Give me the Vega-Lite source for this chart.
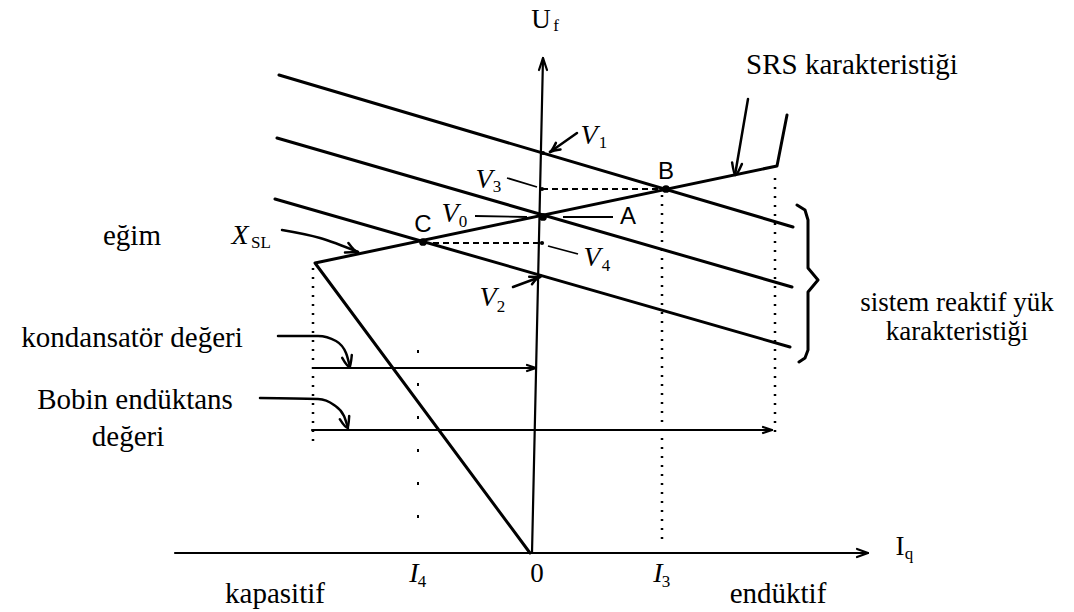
{
  "$schema": "https://vega.github.io/schema/vega-lite/v6.json",
  "width": 1074,
  "height": 612,
  "padding": 0,
  "autosize": {"type": "fit", "contains": "padding"},
  "background": "white",
  "config": {"view": {"stroke": null}},
  "datasets": {
    "thick": [
      {"g": "L1", "o": 1, "x": -253, "y": 478}, {"g": "L1", "o": 2, "x": 261, "y": 326},
      {"g": "L2", "o": 1, "x": -255, "y": 415}, {"g": "L2", "o": 2, "x": 260, "y": 266},
      {"g": "L3", "o": 1, "x": -257, "y": 354}, {"g": "L3", "o": 2, "x": 258, "y": 206},
      {"g": "SRS", "o": 1, "x": 255, "y": 438}, {"g": "SRS", "o": 2, "x": 245, "y": 387},
      {"g": "SRS", "o": 3, "x": -217, "y": 290}, {"g": "SRS", "o": 4, "x": -2, "y": 0},
      {"g": "brace", "o": 1, "x": 265, "y": 348}, {"g": "brace", "o": 2, "x": 273, "y": 343},
      {"g": "brace", "o": 3, "x": 276, "y": 333}, {"g": "brace", "o": 4, "x": 276, "y": 285},
      {"g": "brace", "o": 5, "x": 286, "y": 273}, {"g": "brace", "o": 6, "x": 276, "y": 261},
      {"g": "brace", "o": 7, "x": 276, "y": 203}, {"g": "brace", "o": 8, "x": 273, "y": 195},
      {"g": "brace", "o": 9, "x": 267, "y": 191}
    ],
    "thin": [
      {"g": "va", "o": 1, "x": 0, "y": 0}, {"g": "va", "o": 2, "x": 11, "y": 495},
      {"g": "vh", "o": 1, "x": 7, "y": 483}, {"g": "vh", "o": 2, "x": 11, "y": 495}, {"g": "vh", "o": 3, "x": 15, "y": 483},
      {"g": "ha", "o": 1, "x": -357, "y": 0}, {"g": "ha", "o": 2, "x": 336, "y": 0},
      {"g": "hh", "o": 1, "x": 325, "y": 4}, {"g": "hh", "o": 2, "x": 336, "y": 0}, {"g": "hh", "o": 3, "x": 325, "y": -4},
      {"g": "kl", "o": 1, "x": -219, "y": 185}, {"g": "kl", "o": 2, "x": 4, "y": 185},
      {"g": "kh", "o": 1, "x": -5, "y": 188}, {"g": "kh", "o": 2, "x": 4, "y": 185}, {"g": "kh", "o": 3, "x": -5, "y": 182},
      {"g": "bl", "o": 1, "x": -220, "y": 123}, {"g": "bl", "o": 2, "x": 240, "y": 123},
      {"g": "bh", "o": 1, "x": 231, "y": 126}, {"g": "bh", "o": 2, "x": 240, "y": 123}, {"g": "bh", "o": 3, "x": 231, "y": 120}
    ],
    "arrows": [
      {"g": "v1a", "o": 1, "x": 45, "y": 420}, {"g": "v1a", "o": 2, "x": 18, "y": 401},
      {"g": "v1h", "o": 1, "x": 28.5, "y": 403.5}, {"g": "v1h", "o": 2, "x": 18, "y": 401}, {"g": "v1h", "o": 3, "x": 23.9, "y": 410.1},
      {"g": "v2a", "o": 1, "x": -19, "y": 266}, {"g": "v2a", "o": 2, "x": 8, "y": 276},
      {"g": "v2h", "o": 1, "x": 0, "y": 268.8}, {"g": "v2h", "o": 2, "x": 8, "y": 276}, {"g": "v2h", "o": 3, "x": -2.8, "y": 276.2},
      {"g": "sa", "o": 1, "x": 216, "y": 454}, {"g": "sa", "o": 2, "x": 203, "y": 378},
      {"g": "sh", "o": 1, "x": 209.9, "y": 389}, {"g": "sh", "o": 2, "x": 203, "y": 378}, {"g": "sh", "o": 3, "x": 200.1, "y": 390.6},
      {"g": "xa", "o": 1, "x": -250, "y": 323}, {"g": "xa", "o": 2, "x": -212, "y": 315}, {"g": "xa", "o": 3, "x": -174, "y": 301},
      {"g": "xh", "o": 1, "x": -187, "y": 300.5}, {"g": "xh", "o": 2, "x": -174, "y": 301}, {"g": "xh", "o": 3, "x": -183.6, "y": 309.9},
      {"g": "ka", "o": 1, "x": -254, "y": 217}, {"g": "ka", "o": 2, "x": -214, "y": 217}, {"g": "ka", "o": 3, "x": -196, "y": 212},
      {"g": "ka", "o": 4, "x": -186, "y": 200}, {"g": "ka", "o": 5, "x": -182, "y": 186},
      {"g": "kh", "o": 1, "x": -180.2, "y": 198}, {"g": "kh", "o": 2, "x": -182, "y": 186}, {"g": "kh", "o": 3, "x": -189.8, "y": 195.2},
      {"g": "ba", "o": 1, "x": -272, "y": 155}, {"g": "ba", "o": 2, "x": -214, "y": 154}, {"g": "ba", "o": 3, "x": -198, "y": 148},
      {"g": "ba", "o": 4, "x": -188, "y": 137}, {"g": "ba", "o": 5, "x": -184, "y": 125},
      {"g": "bh", "o": 1, "x": -182.8, "y": 137}, {"g": "bh", "o": 2, "x": -184, "y": 125}, {"g": "bh", "o": 3, "x": -192.2, "y": 133.8}
    ],
    "leaders": [
      {"g": "v3", "o": 1, "x": -25, "y": 375}, {"g": "v3", "o": 2, "x": 5, "y": 366},
      {"g": "v0", "o": 1, "x": -57, "y": 337}, {"g": "v0", "o": 2, "x": -5, "y": 336},
      {"g": "a", "o": 1, "x": 31, "y": 336}, {"g": "a", "o": 2, "x": 81, "y": 336},
      {"g": "v4", "o": 1, "x": 16, "y": 307}, {"g": "v4", "o": 2, "x": 46, "y": 299}
    ],
    "dashed": [
      {"g": "d3", "o": 1, "x": 10, "y": 364}, {"g": "d3", "o": 2, "x": 134, "y": 364},
      {"g": "d4", "o": 1, "x": -109, "y": 310}, {"g": "d4", "o": 2, "x": 10, "y": 310}
    ],
    "dotted": [
      {"g": "left", "o": 1, "x": -219, "y": 285}, {"g": "left", "o": 2, "x": -219, "y": 108},
      {"g": "i3", "o": 1, "x": 130, "y": 358}, {"g": "i3", "o": 2, "x": 130, "y": 8},
      {"g": "right", "o": 1, "x": 243, "y": 375}, {"g": "right", "o": 2, "x": 243, "y": 121}
    ],
    "sparse": [
      {"g": "i4", "o": 1, "x": -114, "y": 203}, {"g": "i4", "o": 2, "x": -114, "y": 18}
    ],
    "bigdots": [
      {"p": "B", "x": 134, "y": 364}, {"p": "A", "x": 11, "y": 336}, {"p": "C", "x": -109, "y": 311}
    ],
    "smalldots": [
      {"p": "V1", "x": 11, "y": 400}, {"p": "V3", "x": 10, "y": 364}, {"p": "V4", "x": 10, "y": 310}, {"p": "V2", "x": 8, "y": 277}
    ],
    "serif": [
      {"t": "SRS  karakteristiği", "x": 320, "y": 488},
      {"t": "eğim", "x": -400, "y": 317},
      {"t": "kondansatör değeri", "x": -400, "y": 215},
      {"t": "Bobin endüktans", "x": -397, "y": 153},
      {"t": "değeri", "x": -404, "y": 116},
      {"t": "kapasitif", "x": -257, "y": -41},
      {"t": "endüktif", "x": 246, "y": -41}
    ],
    "serifsmall": [
      {"t": "sistem reaktif yük", "x": 425, "y": 250},
      {"t": "karakteristiği", "x": 425, "y": 221}
    ],
    "upright": [
      {"t": "U", "x": 9, "y": 533},
      {"t": "I", "x": 368, "y": 6},
      {"t": "0", "x": 5, "y": -21}
    ],
    "sans": [
      {"t": "A", "x": 96, "y": 336}, {"t": "B", "x": 134, "y": 381}, {"t": "C", "x": -109, "y": 328}
    ],
    "italic": [
      {"t": "V", "x": 57, "y": 417}, {"t": "V", "x": -48, "y": 373}, {"t": "V", "x": -82, "y": 339},
      {"t": "V", "x": 60, "y": 295}, {"t": "V", "x": -44, "y": 255}, {"t": "X", "x": -292, "y": 317},
      {"t": "I", "x": -118, "y": -21}, {"t": "I", "x": 126, "y": -21}
    ],
    "sub": [
      {"t": "1", "x": 71, "y": 410}, {"t": "3", "x": -35, "y": 366}, {"t": "0", "x": -69, "y": 331},
      {"t": "4", "x": 74, "y": 287}, {"t": "2", "x": -31, "y": 246}, {"t": "SL", "x": -271, "y": 310},
      {"t": "4", "x": -110, "y": -29}, {"t": "3", "x": 134, "y": -29},
      {"t": "f", "x": 24, "y": 527}, {"t": "q", "x": 377, "y": -1}
    ]
  },
  "encoding": {
    "x": {"field": "x", "type": "quantitative", "scale": {"domain": [-532, 542], "nice": false, "zero": false}, "axis": null},
    "y": {"field": "y", "type": "quantitative", "scale": {"domain": [-59, 553], "nice": false, "zero": false}, "axis": null}
  },
  "layer": [
    {"data": {"name": "thick"}, "mark": {"type": "line", "color": "black", "strokeWidth": 3, "strokeCap": "round", "strokeJoin": "round"},
     "encoding": {"detail": {"field": "g"}, "order": {"field": "o", "type": "quantitative"}}},
    {"data": {"name": "thin"}, "mark": {"type": "line", "color": "black", "strokeWidth": 2.2, "strokeCap": "round", "strokeJoin": "round"},
     "encoding": {"detail": {"field": "g"}, "order": {"field": "o", "type": "quantitative"}}},
    {"data": {"name": "arrows"}, "mark": {"type": "line", "color": "black", "strokeWidth": 2.5, "strokeCap": "round", "strokeJoin": "round", "interpolate": "monotone"},
     "encoding": {"detail": {"field": "g"}, "order": {"field": "o", "type": "quantitative"}}},
    {"data": {"name": "leaders"}, "mark": {"type": "line", "color": "black", "strokeWidth": 1.8},
     "encoding": {"detail": {"field": "g"}, "order": {"field": "o", "type": "quantitative"}}},
    {"data": {"name": "dashed"}, "mark": {"type": "line", "color": "black", "strokeWidth": 2, "strokeDash": [6, 4]},
     "encoding": {"detail": {"field": "g"}, "order": {"field": "o", "type": "quantitative"}}},
    {"data": {"name": "dotted"}, "mark": {"type": "line", "color": "black", "strokeWidth": 2.5, "strokeDash": [2, 7]},
     "encoding": {"detail": {"field": "g"}, "order": {"field": "o", "type": "quantitative"}}},
    {"data": {"name": "sparse"}, "mark": {"type": "line", "color": "black", "strokeWidth": 2, "strokeDash": [3, 30]},
     "encoding": {"detail": {"field": "g"}, "order": {"field": "o", "type": "quantitative"}}},
    {"data": {"name": "bigdots"}, "mark": {"type": "point", "filled": true, "color": "black", "size": 60, "opacity": 1}},
    {"data": {"name": "smalldots"}, "mark": {"type": "point", "filled": true, "color": "black", "size": 18, "opacity": 1}},
    {"data": {"name": "serif"}, "mark": {"type": "text", "font": "Liberation Serif", "fontSize": 29, "color": "black", "baseline": "middle", "align": "center"},
     "encoding": {"text": {"field": "t"}}},
    {"data": {"name": "serifsmall"}, "mark": {"type": "text", "font": "Liberation Serif", "fontSize": 27, "color": "black", "baseline": "middle", "align": "center"},
     "encoding": {"text": {"field": "t"}}},
    {"data": {"name": "upright"}, "mark": {"type": "text", "font": "Liberation Serif", "fontSize": 27, "color": "black", "baseline": "middle", "align": "center"},
     "encoding": {"text": {"field": "t"}}},
    {"data": {"name": "sans"}, "mark": {"type": "text", "font": "Liberation Sans", "fontSize": 24, "color": "black", "baseline": "middle", "align": "center"},
     "encoding": {"text": {"field": "t"}}},
    {"data": {"name": "italic"}, "mark": {"type": "text", "font": "Liberation Serif", "fontStyle": "italic", "fontSize": 28, "color": "black", "baseline": "middle", "align": "center"},
     "encoding": {"text": {"field": "t"}}},
    {"data": {"name": "sub"}, "mark": {"type": "text", "font": "Liberation Serif", "fontSize": 17, "color": "black", "baseline": "middle", "align": "center"},
     "encoding": {"text": {"field": "t"}}}
  ]
}
